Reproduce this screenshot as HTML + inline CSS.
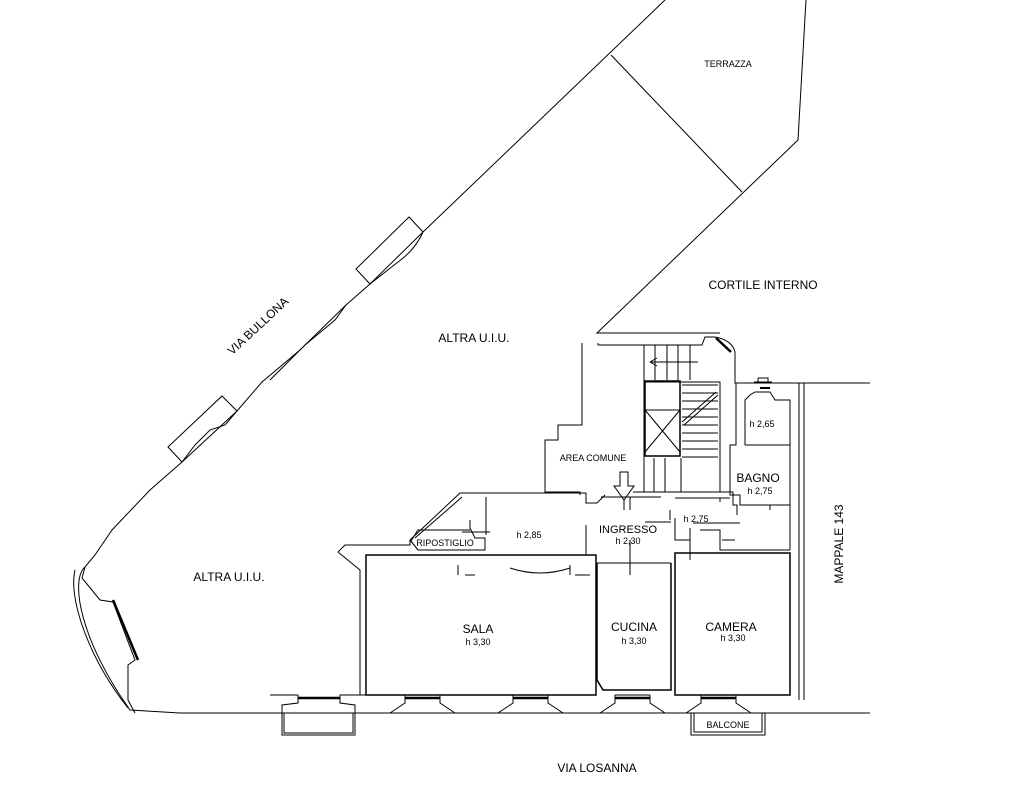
<!DOCTYPE html>
<html><head><style>
html,body{margin:0;padding:0;background:#fff;}
svg{display:block;}
text{font-family:"Liberation Sans",sans-serif;fill:#000;}
</style></head><body>
<svg width="1019" height="792" viewBox="0 0 1019 792" xmlns="http://www.w3.org/2000/svg">
<g fill="none" stroke="#000" stroke-width="1">
<!-- outer diagonal street wall -->
<path d="M665,0 L423,232"/>
<path d="M423,232 L409,217 L356,269 L370,284 L423,232"/>
<path d="M423,232 Q415,250 398,262 L370,284"/>
<path d="M370,284 L346,305 L300,350 L262,382 L237,411"/>
<path d="M346,305 L335,320 L305,345 L270,380"/>
<path d="M237,411 L222,396 L168,447 L182,462 L237,411"/>
<path d="M237,411 L225,425 L210,430 L195,445 L182,462"/>
<path d="M182,462 L150,490 L112,530 L95,555 L85,567"/>
<path d="M85,567 C70,580 80,640 130,710 L180,713 L270,713"/>
<path d="M75,570 C68,600 90,660 128,708"/>
<path d="M85,567 L82,578 L100,600 L113,602 L135,660 L128,665 L128,700 L135,713"/>
<path d="M113,600 L138,660" stroke-width="2.5"/>
<!-- terrace -->
<path d="M806,0 L798,140 L597,333 L720,333"/>
<path d="M611,55 L742,192"/>
<!-- bottom walls -->
<path d="M270,713 L870,713"/>
<path d="M270,695 L298,695 L298,703 L282,705 L282,735 L355,735 L355,705 L340,703 L340,695 L405,695 L405,703 L390,713"/>
<path d="M284,713 L284,733 L353,733 L353,713"/>
<path d="M298,698 L340,698" stroke-width="2.5"/>
<path d="M405,698 L440,698 M513,698 L548,698 M615,698 L650,698 M701,698 L736,698" stroke-width="2.5"/>
<path d="M440,695 L440,703 L455,713 M513,695 L513,703 L498,713 M548,695 L548,703 L563,713 M615,695 L615,703 L600,713 M650,695 L650,703 L665,713 M701,695 L701,703 L686,713 M736,695 L736,703 L751,713"/>
<path d="M405,695 L440,695 M513,695 L548,695 M615,695 L650,695 M701,695 L736,695"/>
<rect x="691" y="713" width="74" height="22"/>
<rect x="694" y="713" width="68" height="19"/>
<!-- left building edge near sala -->
<path d="M338,552 L345,545 L365,545 L410,545 L410,540"/>
<path d="M338,552 L360,570 L360,695"/>
<path d="M410,540 L460,493 L586,493 L586,503 L597,503 L605,495"/>
<path d="M415,538 L462,497"/>
<!-- ripostiglio -->
<path d="M410,540 L418,550 L475,550 L485,550 L485,538 L475,538 L470,528 L470,520"/>
<path d="M418,550 L411,541 L418,530 L470,530"/>
<!-- sala -->
<rect x="366" y="555" width="230" height="140" stroke-width="1.5"/>
<path d="M486,497 L486,535 M462,532 L490,532"/>
<path d="M458,565 L458,575 M465,575 L475,575 M510,568 Q540,578 570,568 M570,565 L570,575 M575,575 L590,575"/>
<!-- ingresso / corridor -->
<path d="M586,525 L586,555 M601,497 L661,497 M630,497 L630,510"/>
<path d="M645,522 L671,522 M630,540 L630,575"/>
<path d="M597,563 L671,563"/>
<path d="M597,563 L597,680 L603,690 L671,690 L671,563" stroke-width="1.5"/>
<path d="M675,553 L790,553 L790,695 L675,695 Z" stroke-width="1.5"/>
<path d="M675,518 L675,540 L690,540 M690,528 L690,560 M700,530 L720,530 L720,550 L790,550"/>
<path d="M670,510 L670,520 M675,498 L720,498 L720,502 M720,498 L725,498 L730,498"/>
<path d="M693,523 L740,523 M722,540 L735,540"/>
<!-- area comune -->
<path d="M582,343 L582,425 L558,425 L558,440 L545,440 L545,492 L580,492 L580,495"/>
<path d="M598,343 L598,345 L702,345 L705,337 L715,337"/>
<path d="M715,337 Q732,340 735,352 L735,383 L800,383 L870,383"/>
<path d="M716,338 L731,352" stroke-width="2.5"/>
<!-- stairs -->
<path d="M644,345 L644,492 M655,345 L655,380 M667,345 L667,380 M678,345 L678,380 M690,345 L690,380"/>
<path d="M644,382 L720,382 L720,492 M682,385 L718,385 M682,393 L718,393 M682,401 L718,401 M682,409 L718,409 M682,417 L718,417 M682,425 L718,425 M682,433 L718,433 M682,441 L718,441 M682,449 L718,449 M682,457 L718,457"/>
<rect x="645" y="381" width="35" height="75" stroke-width="1.5"/>
<path d="M645,410 L680,410 M645,410 L680,452 M680,410 L645,452"/>
<path d="M682,422 L716,392 M684,425 L718,395"/>
<path d="M650,362 L698,362 M650,362 L657,358 M650,362 L657,366"/>
<path d="M654,458 L654,492 M665,458 L665,492 M681,458 L681,492"/>
<path d="M620,472 L628,472 L628,486 L634,486 L624,500 L614,486 L620,486 Z"/>
<path d="M624,500 L624,510"/>
<path d="M633,492 L733,492 L733,505 L737,505 L737,515"/>
<!-- bagno area -->
<path d="M736,383 L736,445 L730,445 L730,495 L740,495 L740,505 L790,505 L790,550 M745,445 L790,445 M745,445 L745,400 L750,395 L755,392 L770,392 L775,400 L790,400 L790,505 M754,382 L772,382 M758,378 L768,378 L768,382 M758,378 L758,382"/>
<path d="M760,388 L770,388" stroke-width="2"/>
<path d="M770,510 L770,505"/>
<path d="M799,383 L799,700 M804,383 L804,700"/>
</g>
<g font-size="12">
<text x="728" y="67" font-size="9" text-anchor="middle">TERRAZZA</text>
<text x="763" y="289" text-anchor="middle">CORTILE INTERNO</text>
<text x="474" y="342" text-anchor="middle">ALTRA U.I.U.</text>
<text x="229" y="581" text-anchor="middle">ALTRA U.I.U.</text>
<text x="258" y="330" text-anchor="middle" transform="rotate(-43 258 326)">VIA BULLONA</text>
<text x="593" y="461" font-size="9" text-anchor="middle">AREA COMUNE</text>
<text x="758" y="482" text-anchor="middle">BAGNO</text>
<text x="760" y="494" font-size="9" text-anchor="middle">h  2,75</text>
<text x="762" y="427" font-size="9" text-anchor="middle">h  2,65</text>
<text x="529" y="538" font-size="9" text-anchor="middle">h  2,85</text>
<text x="445" y="546" font-size="9" text-anchor="middle">RIPOSTIGLIO</text>
<text x="628" y="533" font-size="11" text-anchor="middle">INGRESSO</text>
<text x="628" y="544" font-size="9" text-anchor="middle">h  2,30</text>
<text x="696" y="522" font-size="9" text-anchor="middle">h  2,75</text>
<text x="478" y="633" text-anchor="middle">SALA</text>
<text x="478" y="645" font-size="9" text-anchor="middle">h  3,30</text>
<text x="634" y="631" text-anchor="middle">CUCINA</text>
<text x="634" y="644" font-size="9" text-anchor="middle">h  3,30</text>
<text x="731" y="631" text-anchor="middle">CAMERA</text>
<text x="733" y="641" font-size="9" text-anchor="middle">h  3,30</text>
<text x="728" y="728" font-size="9" text-anchor="middle">BALCONE</text>
<text x="597" y="772" text-anchor="middle">VIA LOSANNA</text>
<text x="847" y="548" text-anchor="middle" transform="rotate(-90 843 548)">MAPPALE 143</text>
</g>
</svg>
</body></html>
